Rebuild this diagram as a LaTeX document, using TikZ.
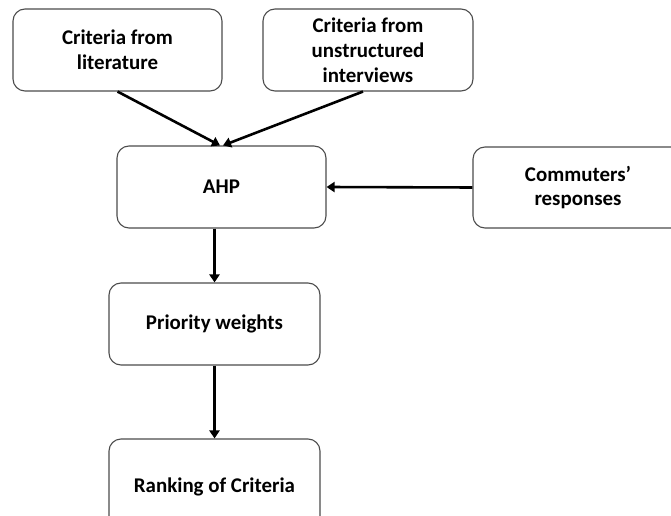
\documentclass[tikz,border=0pt]{standalone}
\usepackage{fontspec}
\setmainfont{Carlito}
\usetikzlibrary{arrows.meta}

\begin{document}
\begin{tikzpicture}[x=1bp,y=-1bp,
		stepbox/.style={draw=black!70,line width=1.1pt,rounded corners=12bp,align=center,
			font=\bfseries\fontsize{21}{25}\selectfont,inner sep=0pt},
		flow/.style={line width=2.6pt,-{Triangle[length=8bp,width=10bp]}}]
				\useasboundingbox (0,0) rectangle (671,516);

				\node[stepbox,minimum width=209bp,minimum height=82bp] (lit) at (117.5,50) {Criteria from\\literature};
				\node[stepbox,minimum width=210bp,minimum height=82bp] (intv) at (368,50) {Criteria from\\unstructured\\interviews};
				\node[stepbox,minimum width=209bp,minimum height=82bp] (ahp) at (221.5,187) {AHP};
				\node[stepbox,minimum width=210bp,minimum height=81bp] (resp) at (578,187.5) {Commuters'\\responses};
				\node[stepbox,minimum width=211bp,minimum height=82bp] (prio) at (214.5,324) {Priority weights};
				\node[stepbox,minimum width=211bp,minimum height=96bp] (rank) at (214.5,487) {Ranking of Criteria};

				\draw[flow] (lit.south) -- ([xshift=-1.5bp]ahp.north);
				\draw[flow] ([xshift=-5bp]intv.south) -- ([xshift=1.5bp]ahp.north);
				\draw[flow] (resp.west) -- (ahp.east);
				\draw[flow] (ahp.south -| prio.north) -- (prio.north);
				\draw[flow] (prio.south) -- (rank.north);
			\end{tikzpicture}
\end{document}
